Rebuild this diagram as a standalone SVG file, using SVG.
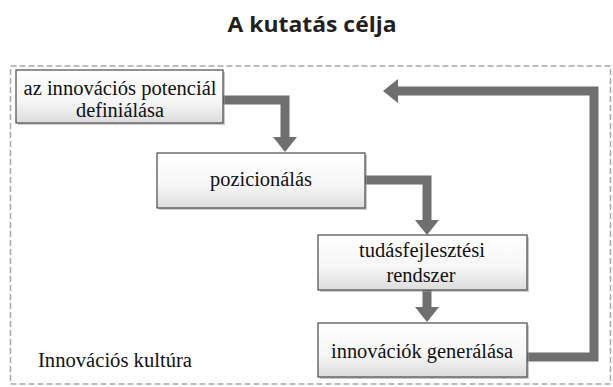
<svg xmlns="http://www.w3.org/2000/svg" width="613" height="387" viewBox="0 0 613 387">
<style>
.title{font-family:"Open Sans","DejaVu Sans",sans-serif;font-weight:bold;font-size:22px;fill:#231f20}
.lbl{font-family:"Liberation Serif","DejaVu Serif",serif;font-size:20.5px;fill:#111}
.box{fill:url(#bg);stroke:#4a4a4a;stroke-width:1.2}
.shadow{fill:#9a9a9a;opacity:0.5}
.conn{fill:none;stroke:#6f6f6f;stroke-width:9;stroke-linejoin:miter}
.frame{fill:none;stroke:#a8a8a8;stroke-width:1.5;stroke-dasharray:6,3}
</style>
<defs>
<linearGradient id="bg" x1="0" y1="0" x2="0" y2="1">
<stop offset="0" stop-color="#ffffff"/>
<stop offset="0.6" stop-color="#f6f6f6"/>
<stop offset="1" stop-color="#dcdcdc"/>
</linearGradient>
<marker id="ah" markerUnits="userSpaceOnUse" markerWidth="16" markerHeight="24" refX="0" refY="12" orient="auto">
<path d="M0,0 L15,12 L0,24 z" fill="#6f6f6f"/>
</marker>
</defs>
<rect width="613" height="387" fill="#ffffff"/>
<text class="title" x="312" y="32" text-anchor="middle" textLength="169" lengthAdjust="spacingAndGlyphs">A kutatás célja</text>
<rect class="frame" x="10.5" y="66" width="600" height="318"/>
<g id="connectors">
<path class="conn" d="M223,100 H285 V137" marker-end="url(#ah)"/>
<path class="conn" d="M365,180 H427 V220" marker-end="url(#ah)"/>
<path class="conn" d="M427,290 V307" marker-end="url(#ah)"/>
<path class="conn" d="M527,357 H594 V91 H398" marker-end="url(#ah)"/>
</g>
<g id="n1">
<rect class="shadow" x="18" y="72" width="207" height="53"/>
<rect class="box" x="16" y="70" width="207" height="53"/>
<text class="lbl" x="120" y="95" text-anchor="middle" textLength="193" lengthAdjust="spacingAndGlyphs">az innovációs potenciál</text>
<text class="lbl" x="120" y="117" text-anchor="middle" textLength="88" lengthAdjust="spacingAndGlyphs">definiálása</text>
</g>
<g id="n2">
<rect class="shadow" x="159" y="155" width="208" height="55"/>
<rect class="box" x="157" y="153" width="208" height="55"/>
<text class="lbl" x="261" y="186" text-anchor="middle" textLength="102" lengthAdjust="spacingAndGlyphs">pozicionálás</text>
</g>
<g id="n3">
<rect class="shadow" x="320" y="237" width="209" height="55"/>
<rect class="box" x="318" y="235" width="209" height="55"/>
<text class="lbl" x="422" y="257" text-anchor="middle" textLength="126" lengthAdjust="spacingAndGlyphs">tudásfejlesztési</text>
<text class="lbl" x="421" y="282" text-anchor="middle" textLength="69" lengthAdjust="spacingAndGlyphs">rendszer</text>
</g>
<g id="n4">
<rect class="shadow" x="320" y="325" width="209" height="54"/>
<rect class="box" x="318" y="323" width="209" height="54"/>
<text class="lbl" x="422" y="358" text-anchor="middle" textLength="182" lengthAdjust="spacingAndGlyphs">innovációk generálása</text>
</g>
<text class="lbl" x="38" y="367" textLength="154" lengthAdjust="spacingAndGlyphs">Innovációs kultúra</text>
</svg>
